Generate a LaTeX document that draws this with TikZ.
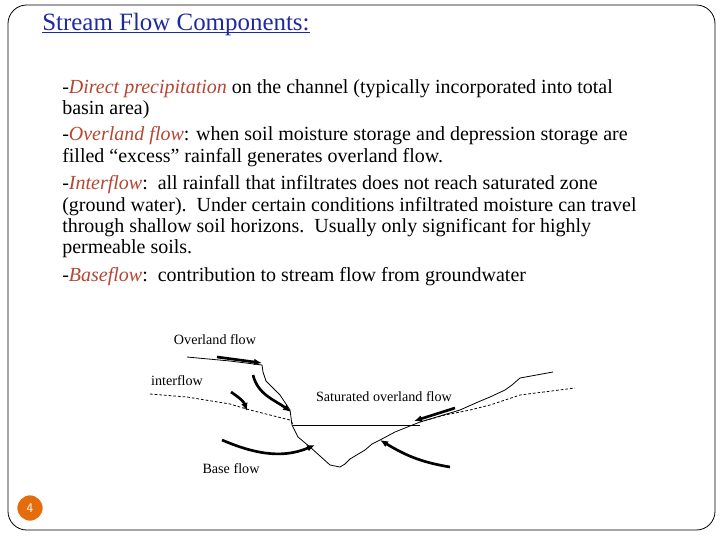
\documentclass[tikz,border=0pt]{standalone}
\usepackage{fontspec}
\setmainfont{Liberation Serif}
\usetikzlibrary{arrows.meta}
\definecolor{ttl}{RGB}{30,40,160}
\definecolor{ital}{RGB}{180,70,50}
\definecolor{pg}{RGB}{228,108,10}
\begin{document}
\begin{tikzpicture}[x=0.75pt,y=-0.75pt,
  body/.style={anchor=base west,inner sep=0,font=\fontsize{15}{16}\selectfont},
  lbl/.style={inner sep=0,font=\fontsize{10.6}{12}\selectfont},
  ground/.style={line width=0.6pt},
  wt/.style={line width=0.6pt,dashed,dash pattern=on 2pt off 1.5pt},
  flow/.style={line width=2pt,-{Latex[length=6pt,width=5pt]}}]
\useasboundingbox (0,0) rectangle (720,540);
\draw[line width=0.6pt,rounded corners=14pt] (8,5) rectangle (715,530);
\node[anchor=base west,inner sep=0,text=ttl,font=\fontsize{18.7}{22}\selectfont] (title) at (42,30) {Stream Flow Components:};
\draw[ttl,line width=0.6pt] ([yshift=-2pt]title.base west) -- ([yshift=-2pt]title.base east);
\node[body] (l1) at (62,93) {-\textcolor{ital}{\textit{Direct precipitation}} on the channel (typically incorporated into total};
\node[body] (l2) at (62,114) {basin area)};
\node[body] (l3) at (62,140) {-\textcolor{ital}{\textit{Overland flow}}: when soil moisture storage and depression storage are};
\node[body] (l4) at (62,162) {filled “excess” rainfall generates overland flow.};
\node[body] (l5) at (62,189) {-\textcolor{ital}{\textit{Interflow}}:\ \ all rainfall that infiltrates does not reach saturated zone};
\node[body] (l6) at (62,211) {(ground water).\ \ Under certain conditions infiltrated moisture can travel};
\node[body] (l7) at (62,232) {through shallow soil horizons.\ \ Usually only significant for highly};
\node[body] (l8) at (62,253) {permeable soils.};
\node[body] (l9) at (62,281) {-\textcolor{ital}{\textit{Baseflow}}:\ \ contribution to stream flow from groundwater};
% diagram
\node[lbl] (ol) at (215,340) {Overland flow};
\node[lbl] (if) at (177,381) {interflow};
\node[lbl] (so) at (384,397) {Saturated overland flow};
\node[lbl] (bf) at (231,469) {Base flow};
\draw[ground] (187,357) -- (230,361) -- (262,365) -- (263,372) -- (266,381) -- (280,395) -- (290,410) -- (292,425)
  -- (298,437) -- (310,447) -- (320,456) -- (330,465) -- (340,467) -- (345,464) -- (350,459) -- (365,450) -- (372,444) -- (380,440) -- (395,432) -- (420,422)
  -- (440,416) -- (460,410) -- (478,402) -- (490,397) -- (505,390) -- (512,385) -- (520,378) -- (553,372);
\draw[ground] (293,425) -- (420,425);
\draw[wt] (150,394) -- (187,397) -- (230,404) -- (250,410) -- (290,420) -- (293,424);
\draw[wt] (420,422) -- (445,415) -- (470,410) -- (490,405) -- (520,395) -- (575,388);
\draw[flow] (217,357) -- (262,363);
\draw[flow] (253,375) .. controls (258,395) and (275,400) .. (291,412);
\draw[flow] (231,392) .. controls (240,398) and (244,402) .. (247,411);
\draw[flow] (222,440) .. controls (250,452) and (280,460) .. (315,445);
\draw[flow] (450,467) .. controls (420,462) and (405,455) .. (380,440);
\draw[flow] (455,408) -- (414,421);
\node[circle,fill=pg,draw=white,line width=1pt,minimum size=20pt,inner sep=0,text=white,font=\fontsize{10}{12}\sffamily] (pn) at (30,508) {4};
\end{tikzpicture}
\end{document}
